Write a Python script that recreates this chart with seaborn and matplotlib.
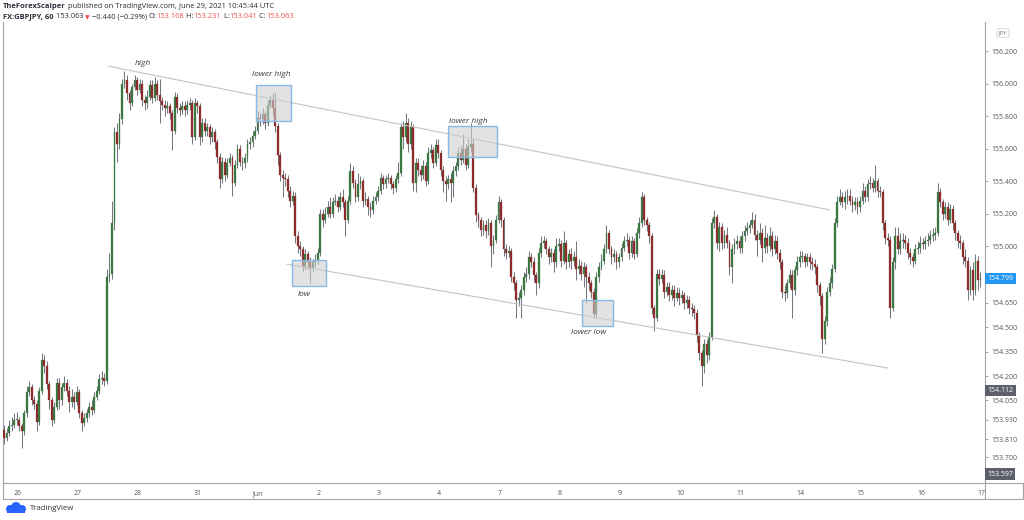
import numpy as np
import pandas as pd
import seaborn as sns
import matplotlib
matplotlib.use("Agg")
import matplotlib.pyplot as plt
from matplotlib.patches import Rectangle, Circle
from matplotlib.lines import Line2D
import matplotlib.transforms as mtransforms

# ---------------- data (GBPJPY, 1h candles) ----------------
first_open = 153.87
closes = [
 153.82,153.85,153.89,153.90,153.93,153.93,153.89,153.86,153.97,154.10,
 154.13,154.05,154.03,153.92,154.11,154.30,154.26,154.15,154.05,153.93,
 154.01,154.16,154.05,154.13,154.16,154.11,154.04,154.07,154.04,154.10,
 153.97,153.91,153.94,153.97,154.01,153.99,154.07,154.11,154.18,154.19,
 154.17,154.81,154.83,155.14,155.70,155.63,155.78,156.00,156.02,155.94,
 155.88,155.98,156.02,155.96,156.00,155.90,155.88,155.92,155.99,155.91,
 156.00,155.93,155.89,155.87,155.85,155.86,155.82,155.71,155.92,155.85,
 155.84,155.86,155.84,155.87,155.88,155.67,155.88,155.86,155.67,155.76,
 155.71,155.73,155.67,155.70,155.64,155.55,155.41,155.52,155.44,155.51,
 155.54,155.39,155.50,155.60,155.52,155.51,155.54,155.63,155.64,155.68,
 155.71,155.79,155.78,155.81,155.76,155.87,155.90,155.85,155.74,155.56,
 155.44,155.42,155.41,155.34,155.28,155.31,155.06,155.00,154.98,154.87,
 154.95,154.90,154.86,154.90,154.91,154.96,155.20,155.16,155.20,155.24,
 155.20,155.27,155.28,155.24,155.30,155.27,155.16,155.28,155.46,155.39,
 155.30,155.38,155.40,155.28,155.29,155.24,155.22,155.28,155.30,155.34,
 155.42,155.38,155.41,155.42,155.38,155.36,155.41,155.45,155.73,155.67,
 155.76,155.63,155.73,155.39,155.51,155.47,155.44,155.49,155.40,155.57,
 155.59,155.51,155.62,155.57,155.47,155.40,155.38,155.41,155.39,155.46,
 155.49,155.57,155.53,155.60,155.50,155.61,155.63,155.36,155.19,155.16,
 155.10,155.13,155.09,155.14,155.00,155.04,155.16,155.27,155.16,154.98,
 154.96,154.97,154.81,154.77,154.67,154.68,154.73,154.81,154.83,154.93,
 154.90,154.82,154.77,154.96,155.02,155.03,154.98,154.93,154.96,154.90,
 155.00,155.01,154.91,155.02,154.90,154.95,154.91,154.93,154.86,154.88,
 154.83,154.87,154.81,154.77,154.72,154.58,154.81,154.87,154.91,154.98,
 155.08,154.98,154.93,154.95,154.90,154.93,154.99,155.03,155.04,154.96,
 155.03,154.95,155.08,155.14,155.30,155.16,155.13,155.06,154.62,154.56,
 154.83,154.80,154.82,154.72,154.75,154.70,154.73,154.68,154.71,154.68,
 154.70,154.65,154.67,154.62,154.61,154.59,154.45,154.34,154.26,154.40,
 154.33,154.44,155.14,155.18,155.02,155.12,155.02,155.07,155.02,154.87,
 154.98,155.01,155.03,154.99,155.06,155.09,155.11,155.13,155.16,155.07,
 155.04,155.08,154.99,155.05,155.00,155.06,154.98,155.03,154.96,154.90,
 154.72,154.71,154.77,154.82,154.73,154.85,154.90,154.93,154.94,154.90,
 154.93,154.90,154.89,154.87,154.76,154.69,154.43,154.54,154.72,154.77,
 154.86,155.14,155.27,155.30,155.27,155.30,155.31,155.28,155.25,155.27,
 155.24,155.28,155.34,155.30,155.38,155.39,155.36,155.40,155.34,155.33,
 155.14,155.05,155.04,154.62,154.90,155.06,154.98,155.03,155.04,155.02,
 154.96,154.93,154.91,154.98,154.99,155.02,155.01,155.03,155.04,155.06,
 155.07,155.08,155.33,155.27,155.20,155.24,155.16,155.23,155.14,155.08,
 155.03,155.02,154.93,154.91,154.73,154.85,154.73,154.91,154.79,154.80,
]
highs = [
 153.90,153.88,153.93,153.95,153.97,153.98,153.95,153.91,153.99,154.14,
 154.17,154.15,154.08,154.05,154.13,154.34,154.33,154.29,154.17,154.07,
 154.04,154.19,154.19,154.16,154.20,154.18,154.14,154.12,154.10,154.14,
 154.12,153.99,153.97,154.00,154.04,154.05,154.10,154.14,154.21,154.23,
 154.22,154.86,154.96,155.28,155.73,155.76,155.82,156.03,156.08,156.05,
 155.96,156.00,156.05,156.04,156.03,156.02,155.93,155.96,156.02,156.02,
 156.04,156.02,156.03,155.92,155.90,155.89,155.88,155.84,155.95,155.94,
 155.88,155.89,155.89,155.90,155.91,155.90,155.91,155.90,155.88,155.79,
 155.79,155.76,155.75,155.73,155.72,155.66,155.57,155.55,155.54,155.54,
 155.57,155.56,155.53,155.63,155.62,155.55,155.57,155.66,155.67,155.71,
 155.74,155.83,155.82,155.85,155.83,155.90,155.93,155.94,155.94,155.76,
 155.58,155.47,155.45,155.44,155.37,155.34,155.33,155.09,155.03,155.00,
 154.98,154.97,154.93,154.92,154.95,154.99,155.23,155.23,155.24,155.28,
 155.30,155.30,155.32,155.31,155.33,155.35,155.29,155.31,155.51,155.49,
 155.41,155.45,155.43,155.42,155.33,155.31,155.27,155.31,155.33,155.37,
 155.45,155.44,155.44,155.45,155.44,155.40,155.44,155.52,155.76,155.77,
 155.82,155.79,155.77,155.75,155.54,155.54,155.50,155.53,155.52,155.61,
 155.63,155.61,155.66,155.66,155.59,155.49,155.43,155.44,155.45,155.49,
 155.52,155.61,155.62,155.69,155.63,155.66,155.76,155.66,155.38,155.21,
 155.18,155.16,155.16,155.17,155.16,155.07,155.19,155.31,155.29,155.18,
 155.01,155.00,154.99,154.84,154.79,154.72,154.76,154.84,154.87,154.97,
 154.96,154.93,154.84,154.99,155.06,155.06,155.05,155.00,154.99,154.98,
 155.05,155.05,155.04,155.09,155.04,154.98,154.99,154.97,155.03,154.92,
 154.91,154.90,154.89,154.84,154.79,154.74,154.84,154.90,154.95,155.01,
 155.13,155.10,155.00,154.98,154.97,154.96,155.02,155.06,155.08,155.06,
 155.06,155.05,155.11,155.18,155.33,155.32,155.18,155.15,155.08,154.64,
 154.86,154.86,154.86,154.85,154.78,154.78,154.76,154.76,154.75,154.74,
 154.73,154.72,154.70,154.69,154.65,154.64,154.61,154.47,154.36,154.43,
 154.42,154.47,155.17,155.22,155.20,155.15,155.14,155.10,155.12,155.04,
 155.01,155.05,155.07,155.06,155.09,155.13,155.15,155.16,155.21,155.20,
 155.10,155.14,155.11,155.13,155.08,155.12,155.09,155.07,155.06,154.98,
 154.92,154.76,154.80,154.86,154.85,154.88,154.94,154.97,154.97,154.96,
 154.96,154.96,154.93,154.92,154.89,154.78,154.71,154.57,154.75,154.81,
 154.89,155.17,155.31,155.35,155.33,155.34,155.35,155.35,155.31,155.30,
 155.30,155.31,155.39,155.37,155.41,155.43,155.42,155.50,155.42,155.37,
 155.35,155.16,155.08,155.06,154.93,155.12,155.12,155.08,155.08,155.07,
 155.05,154.99,154.96,155.01,155.03,155.06,155.05,155.06,155.08,155.10,
 155.11,155.12,155.39,155.36,155.29,155.27,155.27,155.26,155.25,155.16,
 155.10,155.07,155.04,154.98,154.93,154.88,154.90,154.95,154.94,154.84,
]
lows = [
 153.78,153.80,153.83,153.86,153.88,153.90,153.86,153.76,153.84,153.95,
 154.08,154.02,154.00,153.86,153.90,154.09,154.22,154.12,154.00,153.89,
 153.91,153.99,154.00,154.02,154.11,154.08,153.98,154.01,154.00,154.02,
 153.94,153.86,153.89,153.92,153.95,153.96,153.97,154.05,154.09,154.15,
 154.14,154.15,154.78,154.80,155.10,155.52,155.60,155.75,155.97,155.90,
 155.84,155.86,155.96,155.93,155.94,155.86,155.84,155.85,155.90,155.88,
 155.89,155.90,155.76,155.84,155.80,155.82,155.78,155.59,155.69,155.82,
 155.80,155.81,155.80,155.81,155.84,155.63,155.65,155.82,155.62,155.64,
 155.68,155.68,155.63,155.64,155.60,155.51,155.36,155.39,155.40,155.42,
 155.49,155.31,155.37,155.48,155.49,155.47,155.48,155.52,155.60,155.61,
 155.66,155.69,155.74,155.75,155.72,155.74,155.85,155.80,155.70,155.50,
 155.40,155.30,155.37,155.30,155.24,155.25,155.02,154.96,154.94,154.84,
 154.85,154.86,154.77,154.84,154.87,154.89,154.94,155.12,155.14,155.18,
 155.17,155.18,155.25,155.21,155.22,155.24,155.06,155.14,155.26,155.36,
 155.27,155.28,155.35,155.24,155.25,155.19,155.18,155.20,155.26,155.28,
 155.32,155.35,155.36,155.39,155.35,155.32,155.33,155.39,155.43,155.60,
 155.64,155.58,155.60,155.34,155.33,155.43,155.40,155.41,155.37,155.38,
 155.54,155.48,155.49,155.54,155.43,155.33,155.28,155.35,155.27,155.30,
 155.43,155.47,155.50,155.51,155.47,155.48,155.58,155.33,155.15,155.12,
 155.06,155.07,155.05,155.07,154.87,154.95,155.02,155.14,155.12,154.94,
 154.92,154.93,154.78,154.73,154.56,154.63,154.56,154.70,154.78,154.80,
 154.87,154.78,154.70,154.74,154.93,154.99,154.95,154.89,154.90,154.84,
 154.87,154.97,154.87,154.89,154.86,154.87,154.86,154.88,154.79,154.83,
 154.79,154.75,154.65,154.73,154.68,154.56,154.56,154.78,154.85,154.89,
 154.96,154.95,154.89,154.90,154.86,154.87,154.91,154.97,155.00,154.92,
 154.93,154.92,154.93,155.05,155.12,155.13,155.09,155.02,154.58,154.48,
 154.54,154.76,154.77,154.68,154.69,154.66,154.67,154.63,154.66,154.64,
 154.65,154.61,154.62,154.58,154.57,154.55,154.41,154.30,154.14,154.22,
 154.28,154.30,154.42,155.11,154.98,154.97,154.98,154.99,154.99,154.82,
 154.77,154.95,154.98,154.96,154.96,155.03,155.07,155.08,155.11,155.04,
 154.94,155.01,154.90,154.96,154.96,154.97,154.94,154.95,154.92,154.86,
 154.68,154.66,154.68,154.74,154.56,154.70,154.82,154.87,154.90,154.87,
 154.88,154.86,154.85,154.83,154.72,154.64,154.34,154.40,154.51,154.69,
 154.74,154.84,155.12,155.25,155.24,155.23,155.26,155.25,155.21,155.22,
 155.20,155.21,155.26,155.27,155.28,155.35,155.33,155.33,155.30,155.30,
 155.10,155.01,155.00,154.56,154.60,154.86,154.95,154.95,154.99,154.98,
 154.92,154.89,154.87,154.89,154.95,154.96,154.98,154.98,155.00,155.01,
 155.03,155.04,155.06,155.24,155.16,155.17,155.13,155.14,155.10,155.04,
 154.99,154.98,154.89,154.87,154.67,154.70,154.67,154.70,154.73,154.75,
]

day_labels = ["26", "27", "28", "31", "Jun", "2", "3", "4", "7", "8",
              "9", "10", "11", "14", "15", "16", "17"]
ytick_values = [156.2, 156.0, 155.8, 155.6, 155.4, 155.2, 155.0,
                154.65, 154.5, 154.35, 154.2, 154.05, 153.93, 153.81, 153.7]
price_marker_values = [154.799, 154.112, 153.597]
price_marker_colors = ["#2196f3", "#5d606b", "#5d606b"]

# trend channel (candle index, price)
upper_line_x = [41.4, 329.1]
upper_line_y = [156.108, 155.222]
lower_line_x = [112.7, 352.2]
lower_line_y = [154.889, 154.249]

# highlighted zones: (x0, x1, y0, y1)
zones = [(100.4, 114.3, 155.769, 155.991),
         (114.7, 128.3, 154.754, 154.914),
         (176.9, 196.4, 155.548, 155.739),
         (230.3, 242.6, 154.508, 154.668)]
zone_labels = ["high", "lower high", "low", "lower high", "lower low"]
zone_label_x = [55.4, 106.4, 119.5, 184.9, 232.7]
zone_label_y = [156.126, 156.053, 154.705, 155.769, 154.471]

# ---------------- style ----------------
sns.set_style("white")
plt.rcParams["font.family"] = ["Open Sans", "DejaVu Sans"]

W, H = 1024, 520
fig = plt.figure(figsize=(W / 100, H / 100), dpi=100)
fig.patch.set_facecolor("white")

def fx(px):
    return px / W

def fy(py):
    return 1 - py / H

ax = fig.add_axes([fx(3), fy(483), fx(982), 461 / H])
ax.set_facecolor("white")

df = pd.DataFrame({"close": closes, "high": highs, "low": lows})
df["open"] = [first_open] + closes[:-1]
df["idx"] = np.arange(len(df))
df["up"] = df["close"] >= df["open"]
df["top"] = df[["open", "close"]].max(axis=1)
df["bot"] = df[["open", "close"]].min(axis=1)
df["high"] = np.maximum(df["high"], df["top"])
df["low"] = np.minimum(df["low"], df["bot"])
df["hgt"] = np.maximum(df["top"] - df["bot"], 0.004)

green, red, wick = "#3a7742", "#8c2c2c", "#767880"

# wicks
ax.vlines(df["idx"], df["low"], df["high"], color=wick, lw=0.75, zorder=2)
# bodies
cols = np.where(df["up"], green, red)
ax.bar(df["idx"], df["hgt"], bottom=df["bot"], width=0.74, color=cols,
       edgecolor=cols, linewidth=0.2, zorder=3)

# trend lines
sns.lineplot(x=upper_line_x, y=upper_line_y, ax=ax, color="#c4c4c4", lw=0.8,
             estimator=None, zorder=4)
sns.lineplot(x=lower_line_x, y=lower_line_y, ax=ax, color="#c4c4c4", lw=0.8,
             estimator=None, zorder=4)

# zones
for (x0, x1, y0, y1) in zones:
    ax.add_patch(Rectangle((x0, y0), x1 - x0, y1 - y0, facecolor="#cfcfcf",
                           alpha=0.6, edgecolor="none", zorder=5))
    ax.add_patch(Rectangle((x0, y0), x1 - x0, y1 - y0, facecolor="none",
                           edgecolor="#86b9e8", lw=1.0, zorder=6))
for s, xx, yy in zip(zone_labels, zone_label_x, zone_label_y):
    ax.text(xx, yy, s, fontsize=6, style="italic", color="#3a3a3a",
            ha="center", va="center", zorder=7)

# axes limits / ticks
ax.set_xlim(-0.4, 390.8)
ax.set_ylim(153.542, 156.379)

ax.set_xticks([5.3 + 24 * k for k in range(len(day_labels))])
ax.set_xticklabels(day_labels)
ax.yaxis.tick_right()
ax.set_yticks(ytick_values)
ax.set_yticklabels([f"{v:.3f}" for v in ytick_values])
ax.tick_params(axis="x", length=2, width=0.5, color="#888888",
               labelsize=5, labelcolor="#555555", pad=3, direction="out")
ax.tick_params(axis="y", length=2.5, width=0.5, color="#888888",
               labelsize=5, labelcolor="#555555", pad=2, direction="out",
               left=False, right=True)
ax.grid(False)
ax.spines["top"].set_visible(False)
for side in ["left", "right", "bottom"]:
    ax.spines[side].set_visible(True)
    ax.spines[side].set_color("#a0a3aa")
    ax.spines[side].set_linewidth(0.8)

# price markers on the scale
trans = mtransforms.blended_transform_factory(ax.transAxes, ax.transData)
for v, c in zip(price_marker_values, price_marker_colors):
    ax.text(1.0025, v, f"{v:.3f}", transform=trans, fontsize=5, color="white",
            ha="left", va="center", zorder=10, clip_on=False,
            bbox=dict(boxstyle="square,pad=0.3", fc=c, ec="none"))

# JPY badge
fig.text(fx(1003), fy(33), "JPY", fontsize=4.3, color="#777777", ha="center",
         va="center", bbox=dict(boxstyle="round,pad=0.3", fc="white",
                                ec="#d0d0d0", lw=0.6))

# frame lines of the time scale
for xs, ys in [([3, 1023], [499, 499]), ([3, 3], [483, 499]),
               ([985, 985], [483, 499]), ([1023, 1023], [483, 499]),
               ([985, 1023], [483, 483])]:
    fig.add_artist(Line2D([fx(v) for v in xs], [fy(v) for v in ys],
                          color="#a0a3aa", lw=0.8))

# header
dark = "#2a2e39"
redc = "#ef5350"
hfs = 5.4
t1 = fig.text(fx(3), fy(7), "TheForexScalper", fontsize=hfs, weight="bold",
              color=dark, ha="left", va="center")
ax.annotate(" published on TradingView.com, June 29, 2021 10:45:44 UTC",
            xy=(1, 0), xycoords=t1, va="bottom", ha="left", fontsize=hfs,
            color=dark, annotation_clip=False)
pieces = [(" 153.063 ", dark), ("\u25bc", redc),
          (" \u22120.440 (\u22120.29%) ", dark), ("O:", dark),
          ("153.168", redc), (" H:", dark), ("153.231", redc), (" L:", dark),
          ("153.041", redc), (" C:", dark), ("153.063", redc)]
prev = fig.text(fx(3), fy(17), "FX:GBPJPY, 60", fontsize=hfs, weight="bold",
                color=dark, ha="left", va="center")
for s, c in pieces:
    prev = ax.annotate(s, xy=(1, 0), xycoords=prev, va="bottom", ha="left",
                       fontsize=hfs if s != "\u25bc" else 4.4, color=c,
                       annotation_clip=False)

# TradingView logo
lax = fig.add_axes([fx(4), fy(514), fx(24), 12 / H])
lax.set_xlim(0, 24)
lax.set_ylim(0, 12)
lax.axis("off")
for (cx, cy, r) in [(6, 5, 4), (12, 7, 5), (18, 5, 4)]:
    lax.add_patch(Circle((cx, cy), r, color="#2962ff", lw=0))
lax.add_patch(Rectangle((3, 1), 18, 4, color="#2962ff", lw=0))
fig.text(fx(30), fy(508), "TradingView", fontsize=5.6, color="#333333",
         ha="left", va="center")

fig.savefig("out.png", dpi=100, facecolor="white")
